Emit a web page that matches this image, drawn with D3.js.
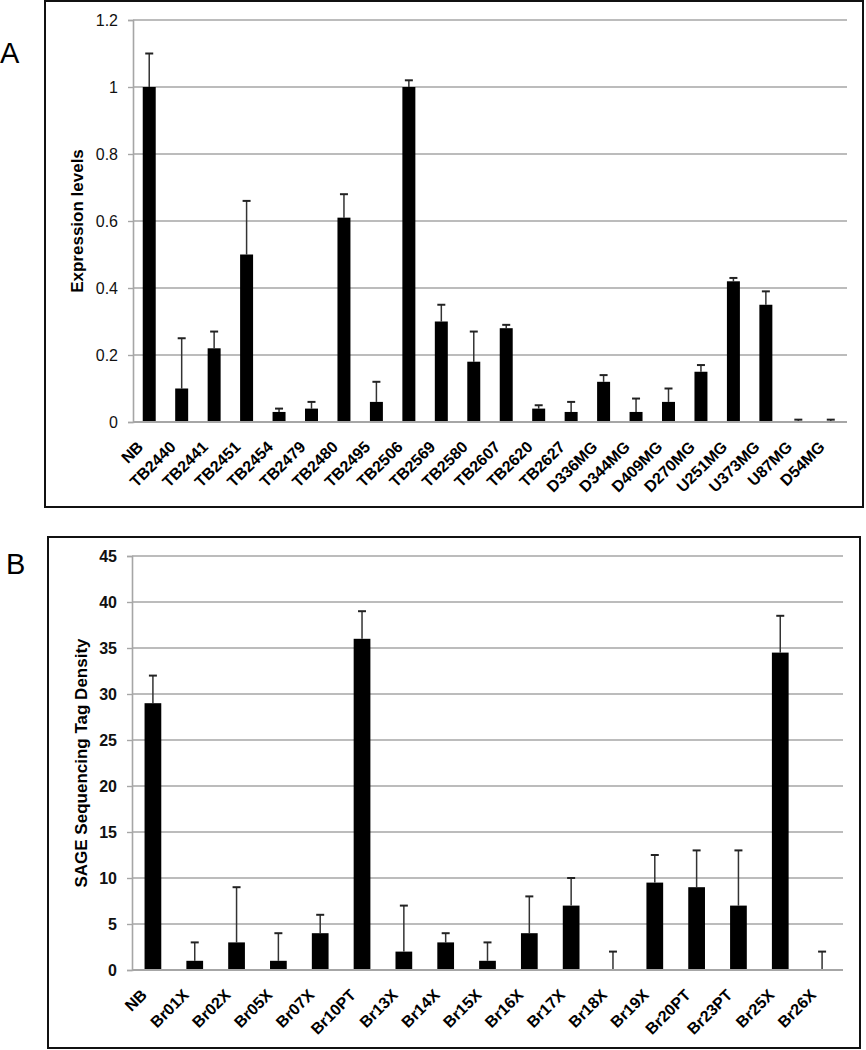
<!DOCTYPE html>
<html>
<head>
<meta charset="utf-8">
<script src="https://cdn.jsdelivr.net/npm/d3@7"></script>
<style>
  body { margin: 0; background: #fff; }
  svg { display: block; font-family: "Liberation Sans", Arial, sans-serif; }
</style>
</head>
<body>
<div id="chart"></div>
<script>
// panel A data
var catsA = ["NB", "TB2440", "TB2441", "TB2451", "TB2454", "TB2479", "TB2480", "TB2495", "TB2506", "TB2569", "TB2580",
    "TB2607", "TB2620", "TB2627", "D336MG", "D344MG", "D409MG", "D270MG", "U251MG", "U373MG", "U87MG", "D54MG"]
var valsA = [1.0, 0.10, 0.22, 0.50, 0.03, 0.04, 0.61, 0.06, 1.0, 0.30, 0.18,
    0.28, 0.04, 0.03, 0.12, 0.03, 0.06, 0.15, 0.42, 0.35, 0.0, 0.0]
var errTopA = [1.10, 0.25, 0.27, 0.66, 0.04, 0.06, 0.68, 0.12, 1.02, 0.35, 0.27,
    0.29, 0.05, 0.06, 0.14, 0.07, 0.10, 0.17, 0.43, 0.39, 0.007, 0.007]
var ticksA = [0, 0.2, 0.4, 0.6, 0.8, 1, 1.2]

// panel B data
var catsB = ["NB", "Br01X", "Br02X", "Br05X", "Br07X", "Br10PT", "Br13X", "Br14X", "Br15X", "Br16X",
    "Br17X", "Br18X", "Br19X", "Br20PT", "Br23PT", "Br25X", "Br26X"]
var valsB = [29, 1, 3, 1, 4, 36, 2, 3, 1, 4, 7, 0, 9.5, 9, 7, 34.5, 0]
var errTopB = [32, 3, 9, 4, 6, 39, 7, 4, 3, 8, 10, 2, 12.5, 13, 13, 38.5, 2]
var ticksB = [0, 5, 10, 15, 20, 25, 30, 35, 40, 45]

var width = 866
    height = 1050

var svg = d3.select("#chart")
    .append("svg")
        .attr("width", width)
        .attr("height", height)

// draws one boxed bar panel
function panel(opt) {
    var g = svg.append("g")

    g.append("rect")
        .attr("x", opt.box[0]).attr("y", opt.box[1])
        .attr("width", opt.box[2]).attr("height", opt.box[3])
        .attr("fill", "none")
        .attr("stroke", "#111")
        .attr("stroke-width", 2)

    g.append("text")
        .attr("x", opt.letterPos[0]).attr("y", opt.letterPos[1])
        .style("font-size", "29px")
        .text(opt.letter)

    var x = d3.scaleBand()
        .domain(opt.cats)
        .range([opt.left, opt.right])
        .paddingInner(0.6)
        .paddingOuter(0.3)

    var y = d3.scaleLinear()
        .domain(opt.domain)
        .range([opt.bottom, opt.top])

    // gridlines
    g.selectAll(".grid")
        .data(opt.ticks.filter(function(d) { return d > 0 }))
        .enter().append("line")
            .attr("x1", opt.left).attr("x2", opt.right)
            .attr("y1", function(d) { return y(d) })
            .attr("y2", function(d) { return y(d) })
            .attr("stroke", "#a6a6a6")
            .attr("stroke-width", 1.6)

    // y axis
    var yAxis = g.append("g")
        .attr("transform", "translate(" + opt.left + ",0)")
        .call(d3.axisLeft(y).tickValues(opt.ticks).tickSize(5).tickPadding(10)
            .tickFormat(function(d) { return String(d) }))
    yAxis.select(".domain").attr("stroke", "#a6a6a6").attr("stroke-width", 1.6)
    yAxis.selectAll(".tick line").attr("stroke", "#a6a6a6").attr("stroke-width", 1.4)
    yAxis.selectAll(".tick text")
        .attr("fill", "#111")
        .style("font-size", "16px")
        .style("font-weight", opt.tickWeight)

    // error bars (upper only)
    var eb = g.selectAll(".err")
        .data(opt.cats)
        .enter().append("g")
    eb.append("line")
        .attr("x1", function(d) { return x(d) + x.bandwidth() / 2 })
        .attr("x2", function(d) { return x(d) + x.bandwidth() / 2 })
        .attr("y1", function(d, i) { return y(opt.vals[i]) })
        .attr("y2", function(d, i) { return y(opt.err[i]) })
        .attr("stroke", "#333")
        .attr("stroke-width", 1.5)
    eb.append("line")
        .attr("x1", function(d) { return x(d) + x.bandwidth() / 2 - 4 })
        .attr("x2", function(d) { return x(d) + x.bandwidth() / 2 + 4 })
        .attr("y1", function(d, i) { return y(opt.err[i]) })
        .attr("y2", function(d, i) { return y(opt.err[i]) })
        .attr("stroke", "#222")
        .attr("stroke-width", 2)

    // bars
    g.selectAll(".bar")
        .data(opt.cats)
        .enter().append("rect")
            .attr("x", function(d) { return x(d) })
            .attr("width", x.bandwidth())
            .attr("y", function(d, i) { return y(opt.vals[i]) })
            .attr("height", function(d, i) { return y(0) - y(opt.vals[i]) })
            .attr("fill", "#000")

    // zero baseline
    g.append("line")
        .attr("x1", opt.left).attr("x2", opt.right)
        .attr("y1", y(0)).attr("y2", y(0))
        .attr("stroke", "#a6a6a6")
        .attr("stroke-width", 2.2)

    // category labels, rotated
    g.selectAll(".xlab")
        .data(opt.cats)
        .enter().append("text")
            .attr("transform", function(d) {
                return "translate(" + (x(d) + x.bandwidth() / 2 - 5) + "," + (y(0) + 26) + ") rotate(-45)"
            })
            .attr("text-anchor", "end")
            .style("font-size", "16px")
            .style("font-weight", "bold")
            .text(function(d) { return d })

    // y title
    g.append("text")
        .attr("transform", "translate(" + opt.titleX + "," + ((opt.top + opt.bottom) / 2 + opt.titleShift) + ") rotate(-90)")
        .attr("text-anchor", "middle")
        .style("font-size", "17px")
        .style("font-weight", "bold")
        .text(opt.title)
}

panel({
    box: [45, 1, 818, 506], letter: "A", letterPos: [0, 63],
    cats: catsA, vals: valsA, err: errTopA, ticks: ticksA, domain: [0, 1.2],
    left: 133, right: 847, top: 20, bottom: 422,
    tickWeight: "normal", title: "Expression levels", titleX: 83, titleShift: 0
})

panel({
    box: [48, 537, 812, 511], letter: "B", letterPos: [6, 574],
    cats: catsB, vals: valsB, err: errTopB, ticks: ticksB, domain: [0, 45],
    left: 132, right: 843, top: 556, bottom: 970,
    tickWeight: "bold", title: "SAGE Sequencing Tag Density", titleX: 87, titleShift: 0
})
</script>
</body>
</html>
